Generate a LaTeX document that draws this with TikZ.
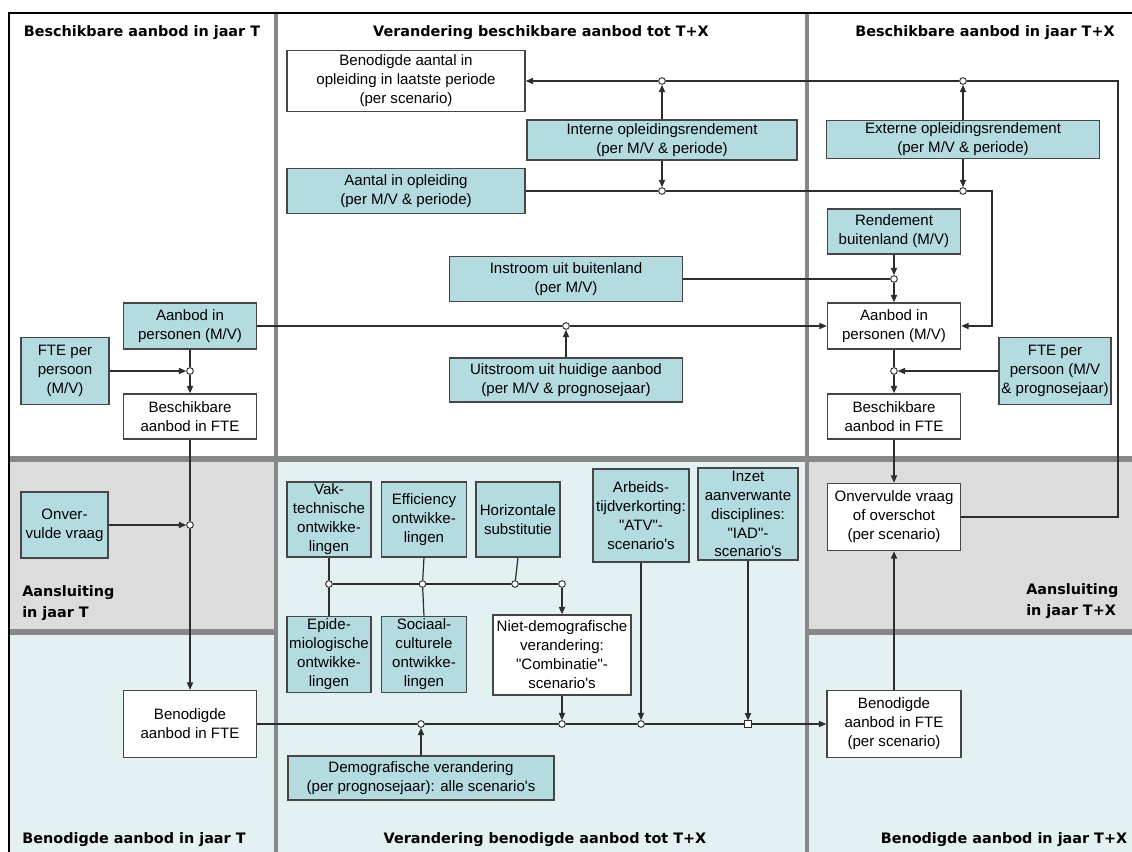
\documentclass[tikz,border=0pt]{standalone}
\usepackage{fontspec}
\setmainfont{Liberation Sans}[Ligatures=TeXOff]
\newfontfamily\headfont{DejaVu Sans}
\usepackage{xcolor}
\usepackage{tikz}
\usetikzlibrary{positioning,arrows.meta}
\definecolor{boxfill}{RGB}{180,219,223}
\definecolor{bandblue}{RGB}{227,241,243}
\definecolor{bandgray}{RGB}{220,220,220}
\definecolor{divider}{RGB}{136,136,136}
\definecolor{boxline}{RGB}{70,70,70}
\definecolor{linecol}{RGB}{45,45,45}
\tikzstyle{box} = [draw=boxline, line width=1.1pt, fill=boxfill, align=center, inner sep=0.5pt, font=\fontsize{11.3}{14.2}\selectfont]
\tikzstyle{wbox} = [box, fill=white]
\tikzstyle{dot} = [circle, draw=linecol, fill=white, line width=0.7pt, inner sep=0pt, minimum size=5pt]
\tikzstyle{sq} = [dot, rectangle, minimum size=4.6pt]
\tikzstyle{head} = [font=\headfont\bfseries\fontsize{10.8}{15.75}\selectfont, inner sep=0pt]
\tikzstyle{conn} = [draw=linecol, line width=0.9pt]

\begin{document}
\begin{tikzpicture}[x=0.75pt, y=-0.75pt, >={Triangle[length=5.5pt,width=4.6pt]}]
		\path[use as bounding box, fill=white] (0,0) rectangle (1132,852);
		\fill[bandblue] (9,458) rectangle (1132,852);
		\fill[bandgray] (9,458) rectangle (276,632);
		\fill[bandgray] (807,458) rectangle (1132,632);
		\draw[divider, line width=5pt] (9,459) -- (1132,459);
		\draw[divider, line width=5pt] (9,632) -- (276,632);
		\draw[divider, line width=5pt] (807,632) -- (1132,632);
		\draw[divider, line width=3pt] (276,13) -- (276,852);
		\draw[divider, line width=3pt] (807,13) -- (807,852);
		\draw[black, line width=1pt] (9,852) -- (9,13) -- (1132,13);
		
		\node[head] (hbesch1) at (142,33) {Beschikbare aanbod in jaar T};
		\node[head] (hverb) at (541,33) {Verandering beschikbare aanbod tot T+X};
		\node[head] (hbesch2) at (985,33) {Beschikbare aanbod in jaar T+X};
		\node[head, align=left, anchor=west] (hansl1) at (22,603) {Aansluiting\\in jaar T};
		\node[head, align=left, anchor=west] (hansl2) at (1026,601) {Aansluiting\\in jaar T+X};
		\node[head] (hbenod1) at (134,840) {Benodigde aanbod in jaar T};
		\node[head] (hvern) at (545,840) {Verandering benodigde aanbod tot T+X};
		\node[head] (hbenod2) at (1004,840) {Benodigde aanbod in jaar T+X};
		
		\node[wbox, minimum width=178.5pt, minimum height=45.75pt] (benopl) at (406,81) {Benodigde aantal in\\opleiding in laatste periode\\(per scenario)};
		\node[box, minimum width=202.5pt, minimum height=30pt] (intern) at (662,140) {Interne opleidingsrendement\\(per M/V \& periode)};
		\node[box, minimum width=178.5pt, minimum height=33.75pt] (aantopl) at (406,191) {Aantal in opleiding\\(per M/V \& periode)};
		\node[box, minimum width=174.75pt, minimum height=33.75pt] (instroom) at (566,279) {Instroom uit buitenland\\(per M/V)};
		\node[box, minimum width=174.75pt, minimum height=33pt] (uitstroom) at (566,380) {Uitstroom uit huidige aanbod\\(per M/V \& prognosejaar)};
		\node[box, minimum width=204.75pt, minimum height=28.5pt] (extern) at (963,139.5) {Externe opleidingsrendement\\(per M/V \& periode)};
		\node[box, minimum width=99.75pt, minimum height=33.75pt] (rend) at (894,231.5) {Rendement\\buitenland (M/V)};
		\node[wbox, minimum width=99.75pt, minimum height=34.5pt] (aanbod2) at (894,326) {Aanbod in\\personen (M/V)};
		\node[box, minimum width=84pt, minimum height=50.25pt] (fte2) at (1055,371) {FTE per\\persoon (M/V\\\& prognosejaar)};
		\node[wbox, minimum width=99.75pt, minimum height=33.75pt] (besch2) at (894,416.5) {Beschikbare\\aanbod in FTE};
		\node[wbox, minimum width=99.75pt, minimum height=50.25pt] (onverv2) at (894,517) {Onvervulde vraag\\of overschot\\(per scenario)};
		\node[wbox, minimum width=100.5pt, minimum height=50.25pt] (benod2) at (894,724) {Benodigde\\aanbod in FTE\\(per scenario)};
		
		\node[box, minimum width=99.75pt, minimum height=34.5pt] (aanbod1) at (190,326) {Aanbod in\\personen (M/V)};
		\node[box, minimum width=66pt, minimum height=50.25pt] (fte1) at (65,371) {FTE per\\persoon\\(M/V)};
		\node[wbox, minimum width=99.75pt, minimum height=33.75pt] (besch1) at (190,416.5) {Beschikbare\\aanbod in FTE};
		\node[box, minimum width=65.25pt, minimum height=49.5pt] (onverv1) at (64.5,525) {Onver-\\vulde vraag};
		\node[wbox, minimum width=99.75pt, minimum height=50.25pt] (benod1) at (190,724) {Benodigde\\aanbod in FTE};
		
		\node[box, minimum width=63pt, minimum height=56.25pt] (vak) at (329,519.5) {Vak-\\technische\\ontwikke-\\lingen};
		\node[box, minimum width=63.75pt, minimum height=56.25pt, right=6.75pt of vak] (eff) {Efficiency\\ontwikke-\\lingen};
		\node[box, minimum width=63pt, minimum height=56.25pt, right=6pt of eff] (hor) {Horizontale\\substitutie};
		\node[box, minimum width=63pt, minimum height=57pt, below=43.5pt of vak] (epi) {Epide-\\miologische\\ontwikke-\\lingen};
		\node[box, minimum width=63.75pt, minimum height=57pt, below=43.5pt of eff] (soc) {Sociaal-\\culturele\\ontwikke-\\lingen};
		\node[wbox, minimum width=103.5pt, minimum height=60pt] (nietdem) at (562,655) {Niet-demografische\\verandering:\\"Combinatie"-\\scenario's};
		\node[box, minimum width=72pt, minimum height=69.75pt] (atv) at (641,515.5) {Arbeids-\\tijdverkorting:\\"ATV"-\\scenario's};
		\node[box, minimum width=75pt, minimum height=69pt] (iad) at (748,514) {Inzet\\aanverwante\\disciplines:\\"IAD"-\\scenario's};
		\node[box, minimum width=199.5pt, minimum height=33pt] (demo) at (421,778) {Demografische verandering\\(per prognosejaar): alle scenario's};
		
		\node[dot] (k1) at (662,81) {};
		\node[dot] (k2) at (662,191) {};
		\node[dot] (k3) at (963,81) {};
		\node[dot] (k4) at (963,191) {};
		\node[dot] (k5) at (894,279) {};
		\node[dot] (k6) at (566,326) {};
		\node[dot] (k7) at (894,371) {};
		\node[dot] (k8) at (190,371) {};
		\node[dot] (k9) at (190,525) {};
		\node[dot] (k10) at (329,584) {};
		\node[dot] (k11) at (422.5,584) {};
		\node[dot] (k12) at (515,584) {};
		\node[dot] (k13) at (562,584) {};
		\node[dot] (k14) at (421,724) {};
		\node[dot] (k15) at (562,724) {};
		\node[dot] (k16) at (641,724) {};
		\node[sq] (k17) at (748,724) {};
		\coordinate (c1) at (1118,81);
		\coordinate (c2) at (1118,517);
		\coordinate (c3) at (992,191);
		\coordinate (c4) at (992,326);
		
		\draw [conn,->] (onverv2.east) -- (c2) -- (c1) -- (k3) -- (k1) -- (benopl.east);
		\draw [conn,->] (intern.north) -- (k1);
		\draw [conn,->] (intern.south) -- (k2);
		\draw [conn,->] (extern.north) -- (k3);
		\draw [conn,->] (extern.south) -- (k4);
		\draw [conn,->] (aantopl.east) -- (k2) -- (k4) -- (c3) -- (c4) -- (aanbod2.east);
		\draw [conn,->] (rend.south) -- (k5);
		\draw [conn] (instroom.east) -- (k5);
		\draw [conn,->] (k5) -- (aanbod2.north);
		\draw [conn,->] (aanbod1.east) -- (k6) -- (aanbod2.west);
		\draw [conn,->] (uitstroom.north) -- (k6);
		\draw [conn] (aanbod2.south) -- (k7);
		\draw [conn,->] (fte2.west) -- (k7);
		\draw [conn,->] (k7) -- (besch2.north);
		\draw [conn,->] (besch2.south) -- (onverv2.north);
		\draw [conn,->] (benod2.north) -- (onverv2.south);
		\draw [conn] (aanbod1.south) -- (k8);
		\draw [conn,->] (fte1.east) -- (k8);
		\draw [conn,->] (k8) -- (besch1.north);
		\draw [conn] (besch1.south) -- (k9);
		\draw [conn,->] (onverv1.east) -- (k9);
		\draw [conn,->] (k9) -- (benod1.north);
		\draw [conn,->] (benod1.east) -- (k14) -- (k15) -- (k16) -- (k17) -- (benod2.west);
		\draw [conn,->] (demo.north) -- (k14);
		\draw [conn,->] (nietdem.south) -- (k15);
		\draw [conn,->] (atv.south) -- (k16);
		\draw [conn,->] (iad.south) -- (k17);
		\draw [conn] (vak.south) -- (k10) -- (epi.north);
		\draw [conn] (eff.south) -- (k11) -- (soc.north);
		\draw [conn] (hor.south) -- (k12);
		\draw [conn] (k10) -- (k11) -- (k12) -- (k13);
		\draw [conn,->] (k13) -- (nietdem.north);
	\end{tikzpicture}
\end{document}
